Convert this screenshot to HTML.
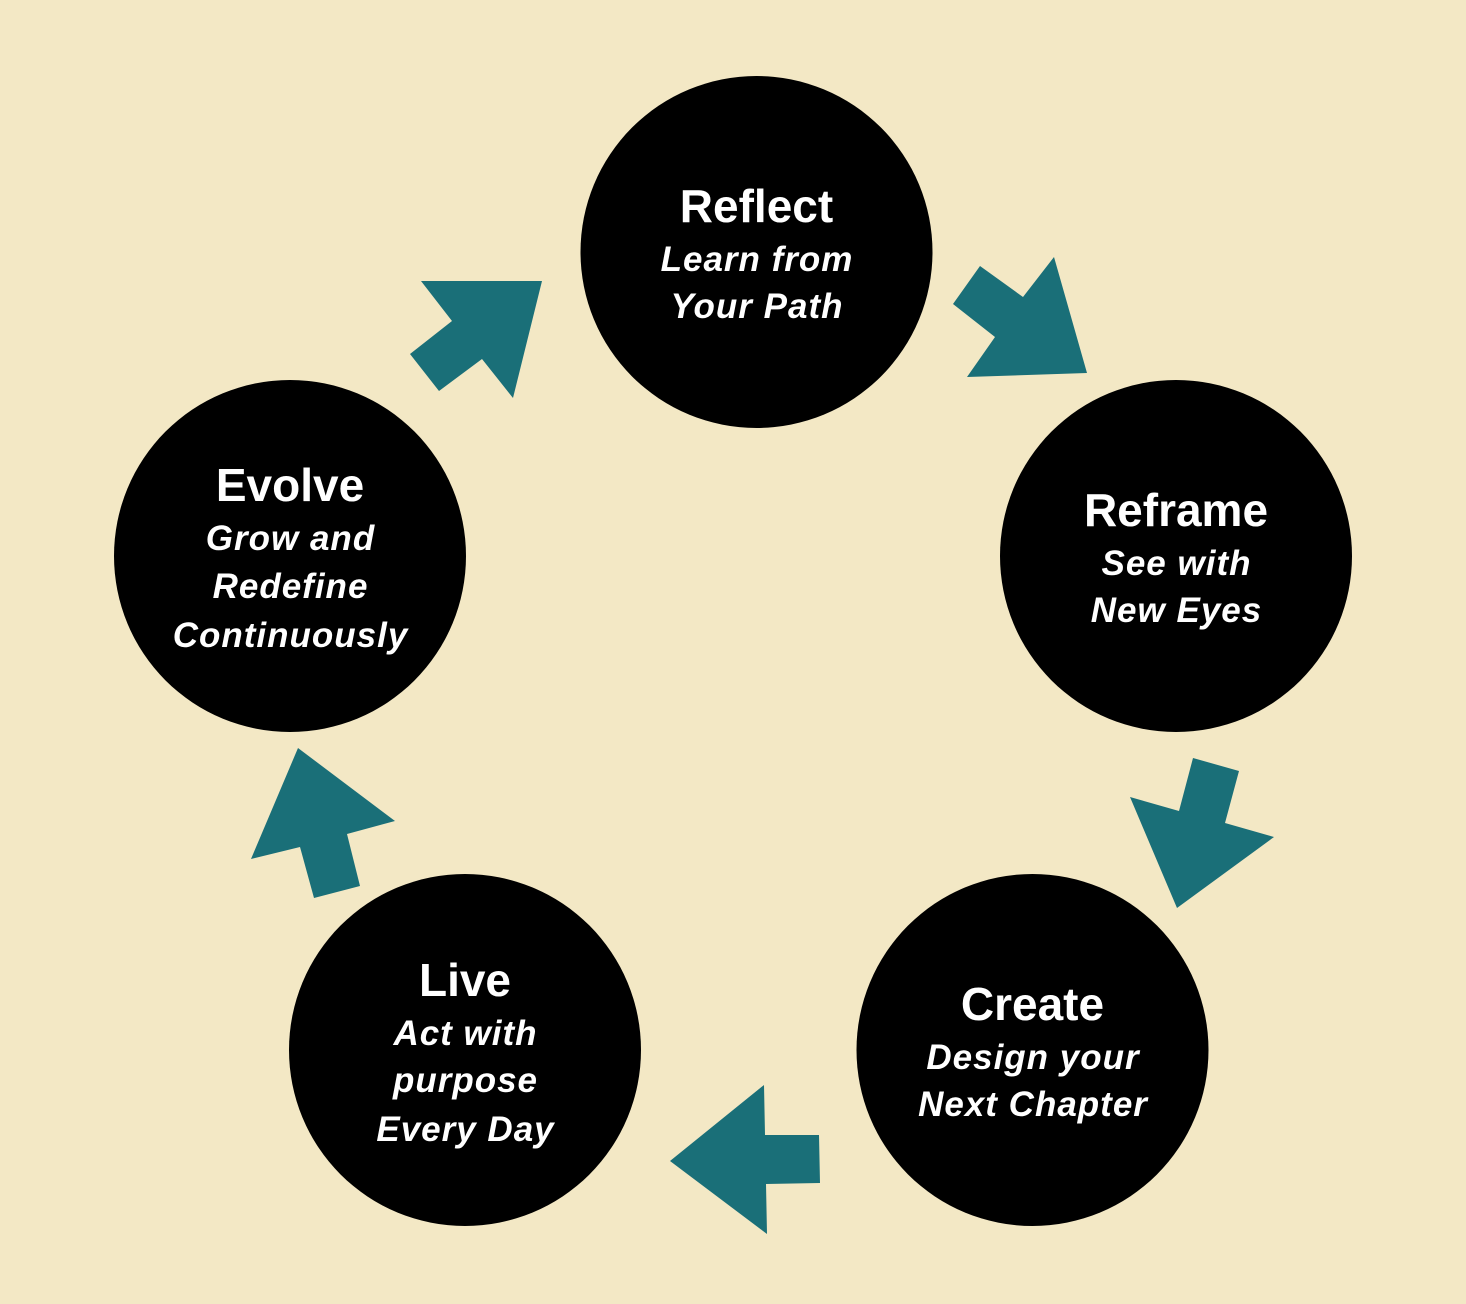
<!DOCTYPE html>
<html>
<head>
<meta charset="utf-8">
<style>
  html, body { margin: 0; padding: 0; background: #f3e8c5; }
  body { width: 1466px; height: 1304px; overflow: hidden; }
  svg { display: block; }
  .t { font-family: "Liberation Sans", Arial, sans-serif; font-weight: bold; font-size: 46px; fill: #ffffff; }
  .s { font-family: "Liberation Sans", Arial, sans-serif; font-weight: bold; font-style: italic; font-size: 35px; letter-spacing: 1px; fill: #ffffff; }
</style>
</head>
<body>
<svg width="1466" height="1304" viewBox="0 0 1466 1304" xmlns="http://www.w3.org/2000/svg">
  <rect x="0" y="0" width="1466" height="1304" fill="#f3e8c5"/>

  <!-- arrows -->
  <g fill="#1a6f78">
    <polygon points="980,266 1023,297 1054,257 1087,373 967,377 995,337 953,304"/>
    <polygon points="1193,758 1239,771 1225,823 1274,837 1177,908 1130,797 1179,811"/>
    <polygon points="764,1085 765,1135 819,1135 820,1183 766,1184 767,1234 670,1161"/>
    <polygon points="298,748 395,821 347,834 360,886 314,898 300,847 251,859"/>
    <polygon points="421,281 542,281 513,398 482,359 439,391 410,354 452,321"/>
  </g>

  <!-- circles -->
  <g fill="#000000">
    <circle cx="756.5" cy="252" r="176"/>
    <circle cx="1176" cy="556" r="176"/>
    <circle cx="1032.5" cy="1050" r="176"/>
    <circle cx="465" cy="1050" r="176"/>
    <circle cx="290" cy="556" r="176"/>
  </g>

  <!-- Reflect -->
  <g text-anchor="middle">
    <text class="t" x="756.5" y="222">Reflect</text>
    <text class="s" x="757" y="271">Learn from</text>
    <text class="s" x="757" y="318">Your Path</text>
  </g>

  <!-- Reframe -->
  <g text-anchor="middle">
    <text class="t" x="1176" y="526">Reframe</text>
    <text class="s" x="1176.5" y="575">See with</text>
    <text class="s" x="1176.5" y="622">New Eyes</text>
  </g>

  <!-- Create -->
  <g text-anchor="middle">
    <text class="t" x="1032.5" y="1020">Create</text>
    <text class="s" x="1033" y="1069">Design your</text>
    <text class="s" x="1033" y="1116">Next Chapter</text>
  </g>

  <!-- Live -->
  <g text-anchor="middle">
    <text class="t" x="465" y="996">Live</text>
    <text class="s" x="465.5" y="1045">Act with</text>
    <text class="s" x="465.5" y="1092">purpose</text>
    <text class="s" x="465.5" y="1141">Every Day</text>
  </g>

  <!-- Evolve -->
  <g text-anchor="middle">
    <text class="t" x="290" y="501">Evolve</text>
    <text class="s" x="290.5" y="550">Grow and</text>
    <text class="s" x="290.5" y="598">Redefine</text>
    <text class="s" x="290.5" y="647">Continuously</text>
  </g>
</svg>
</body>
</html>
